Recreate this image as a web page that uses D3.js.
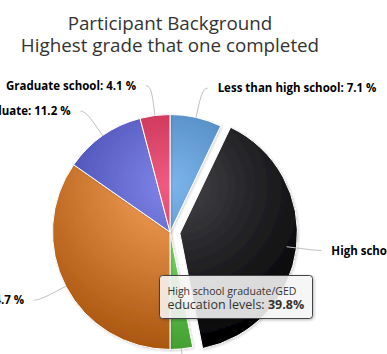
<!DOCTYPE html>
<html>
<head>
<meta charset="utf-8">
<script src="https://cdn.jsdelivr.net/npm/d3@7"></script>
<style>
  body { margin: 0; background: #fff; }
  svg { display: block; font-family: "Open Sans", "DejaVu Sans", sans-serif; }
</style>
</head>
<body>
<script>
// education levels of the participants (percent of total)
var categories = ["Less than high school", "High school graduate/GED", "Vocational school",
                  "Some college", "College graduate", "Graduate school"];
var shares = [7.1, 39.8, 3.1, 34.7, 11.2, 4.1];
var colors = ["#7cb5ec", "#434348", "#90ed7d", "#f7a35c", "#8085e9", "#f15c80"];
var titleLines = ["Participant Background", "Highest grade that one completed"];
var slicedIndex = 1;          // the slice pulled out of the pie (and hovered)
var tooltipName = "education levels";

var width = 387, height = 354;
var cx = 170, cy = 232, radius = 117.5;
var labelDistance = 30, slicedOffset = 10;

var svg = d3.select("body").append("svg")
    .attr("width", width)
    .attr("height", height);

var defs = svg.append("defs");

// radial gradient per colour: colour near the top middle, 30% darker at the rim
// (in the slice's own coordinates, origin = pie centre)
function darker(c) {
  var rgb = d3.rgb(c);
  var k = Math.round(255 * 0.3);
  return d3.rgb(Math.max(0, rgb.r - k), Math.max(0, rgb.g - k), Math.max(0, rgb.b - k));
}
colors.forEach(function(c, i) {
  var g = defs.append("radialGradient")
      .attr("id", "grad" + i)
      .attr("gradientUnits", "userSpaceOnUse")
      .attr("cx", 0).attr("cy", -0.4 * radius)
      .attr("r", 1.4 * radius);
  g.append("stop").attr("offset", 0).attr("stop-color", c);
  g.append("stop").attr("offset", 1).attr("stop-color", darker(c));
});

var shadow = defs.append("filter").attr("id", "shadow")
    .attr("x", "-20%").attr("y", "-20%").attr("width", "140%").attr("height", "140%");
shadow.append("feDropShadow").attr("dx", 1).attr("dy", 1)
    .attr("stdDeviation", 1.2).attr("flood-opacity", 0.18);

var tipShadow = defs.append("filter").attr("id", "tipShadow")
    .attr("x", "-20%").attr("y", "-30%").attr("width", "140%").attr("height", "160%");
tipShadow.append("feDropShadow").attr("dx", 1).attr("dy", 1)
    .attr("stdDeviation", 1.5).attr("flood-opacity", 0.3);

// title
svg.append("text")
    .attr("x", cx)
    .attr("y", 30)
    .attr("text-anchor", "middle")
    .style("font-size", "18.8px")
    .style("fill", "#333333")
    .selectAll("tspan")
    .data(titleLines)
    .enter().append("tspan")
    .attr("x", cx)
    .attr("dy", function(d, i) { return i ? 21.5 : 0; })
    .text(function(d) { return d; });

var pie = d3.pie().sort(null).value(function(d) { return d; });
var arcs = pie(shares);
var total = d3.sum(shares);

var arc = d3.arc().innerRadius(0).outerRadius(radius);

var mid = function(d) { return (d.startAngle + d.endAngle) / 2; };

svg.append("g").selectAll("path")
    .data(arcs)
    .enter().append("path")
    .attr("d", arc)
    .attr("transform", function(d, i) {
      var dx = cx, dy = cy;
      if (i === slicedIndex) {
        var a = mid(d);
        dx += Math.sin(a) * slicedOffset;
        dy -= Math.cos(a) * slicedOffset;
      }
      return "translate(" + dx + "," + dy + ")";
    })
    .attr("fill", function(d, i) { return "url(#grad" + i + ")"; })
    .attr("stroke", "#ffffff")
    .attr("stroke-width", 1)
    .attr("stroke-linejoin", "round")
    .attr("filter", "url(#shadow)");

// data labels with curved connectors
function pt(a, r) { return [cx + Math.sin(a) * r, cy - Math.cos(a) * r]; }

var labels = svg.append("g");

arcs.forEach(function(d, i) {
  var a = mid(d);
  var right = Math.sin(a) >= 0;
  var p1 = pt(a, radius + labelDistance);
  var p2 = pt(a, radius + 10);
  var p3 = pt(a, radius);
  var sx = p1[0] + (right ? 5 : -5);
  var path = "M" + sx + "," + p1[1] +
      "C" + p1[0] + "," + p1[1] + " " +
      (2 * p2[0] - p3[0]) + "," + (2 * p2[1] - p3[1]) + " " +
      p2[0] + "," + p2[1] + "L" + p3[0] + "," + p3[1];
  labels.append("path")
      .attr("d", path)
      .attr("fill", "none")
      .attr("stroke", "silver")
      .attr("stroke-width", 1);
  labels.append("text")
      .attr("x", p1[0] + (right ? 15 : -15))
      .attr("y", p1[1])
      .attr("dy", "0.35em")
      .attr("text-anchor", right ? "start" : "end")
      .style("font-size", "11.5px")
      .style("font-weight", "bold")
      .style("fill", "#000")
      .text(categories[i] + ": " + (shares[i] / total * 100).toFixed(1) + " %");
});

// tooltip for the hovered slice
var tip = svg.append("g").attr("transform", "translate(159.5,275.5)");
tip.append("rect")
    .attr("width", 153).attr("height", 43)
    .attr("rx", 3).attr("ry", 3)
    .attr("fill", "rgba(249,249,249,0.85)")
    .attr("stroke", colors[slicedIndex])
    .attr("stroke-width", 1)
    .attr("filter", "url(#tipShadow)");
var tipText = tip.append("text").style("fill", "#333333");
tipText.append("tspan")
    .attr("x", 8).attr("y", 19.5)
    .style("font-size", "10.5px")
    .text(categories[slicedIndex]);
var line2 = tipText.append("tspan")
    .attr("x", 8).attr("y", 33.5)
    .style("font-size", "12.5px")
    .text(tooltipName + ": ");
line2.append("tspan")
    .style("font-weight", "bold")
    .text((shares[slicedIndex] / total * 100).toFixed(1) + "%");
</script>
</body>
</html>
